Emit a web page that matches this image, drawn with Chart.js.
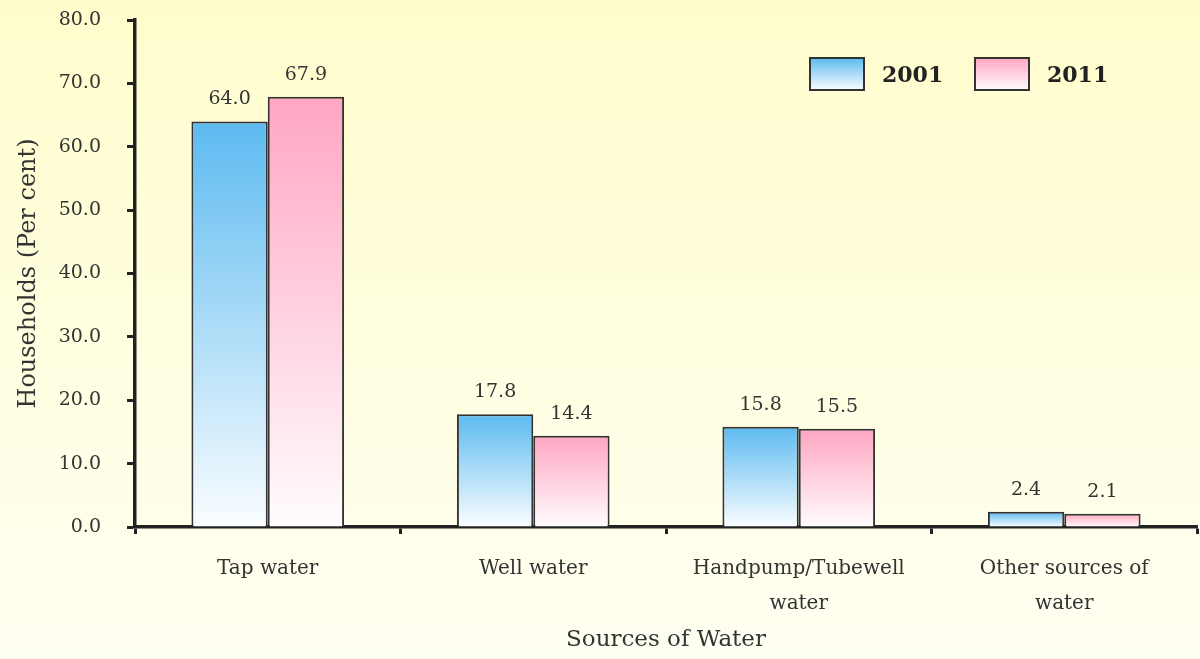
<!DOCTYPE html>
<html>
<head>
<meta charset="utf-8">
<script src="https://cdn.jsdelivr.net/npm/chart.js@4.4.1/dist/chart.umd.min.js"></script>
<style>
html,body{margin:0;padding:0;background:#fffef0;}
#wrap{width:1200px;height:659px;}
</style>
</head>
<body>
<div id="wrap"><canvas id="c" width="1200" height="659"></canvas></div>
<script>
const categories = ['Tap water', 'Well water', ['Handpump/Tubewell', 'water'], ['Other sources of', 'water']];
const seriesNames = ['2001', '2011'];
const values2001 = [64.0, 17.8, 15.8, 2.4];
const values2011 = [67.9, 14.4, 15.5, 2.1];
const yTicks = [0, 10, 20, 30, 40, 50, 60, 70, 80];

const SERIF = '"DejaVu Serif", "Liberation Serif", serif';
const topColors = ['rgb(92,186,240)', 'rgb(255,166,194)'];
const bottomColors = ['rgb(250,253,255)', 'rgb(255,252,253)'];

function barGradient(i) {
  return function (ctx) {
    if (ctx.type !== 'data' || !ctx.chart.chartArea || !ctx.parsed) return topColors[i];
    const y = ctx.chart.scales.y;
    const top = y.getPixelForValue(ctx.parsed.y);
    const bottom = y.getPixelForValue(0);
    const g = ctx.chart.ctx.createLinearGradient(0, top, 0, bottom);
    g.addColorStop(0, topColors[i]);
    g.addColorStop(1, bottomColors[i]);
    return g;
  };
}

const bgPlugin = {
  id: 'bg',
  beforeDraw(chart) {
    const c = chart.ctx;
    const g = c.createLinearGradient(0, 0, 0, chart.height);
    g.addColorStop(0, 'rgb(255,253,204)');
    g.addColorStop(1, 'rgb(255,255,242)');
    c.save();
    c.fillStyle = g;
    c.fillRect(0, 0, chart.width, chart.height);
    c.restore();
  }
};

const labelPlugin = {
  id: 'vals',
  afterDatasetsDraw(chart) {
    const c = chart.ctx;
    c.save();
    c.font = '19px ' + SERIF;
    c.fillStyle = '#333';
    c.textAlign = 'center';
    c.textBaseline = 'alphabetic';
    chart.data.datasets.forEach((ds, di) => {
      const meta = chart.getDatasetMeta(di);
      meta.data.forEach((bar, i) => {
        c.fillText(ds.data[i].toFixed(1), bar.x, bar.y - 17);
      });
    });
    c.restore();
  }
};

const legendPlugin = {
  id: 'customLegend',
  afterDraw(chart) {
    const c = chart.ctx;
    const xs = [810, 975];
    c.save();
    chart.data.datasets.forEach((ds, i) => {
      const x = xs[i], y = 58, w = 54, h = 32;
      const g = c.createLinearGradient(0, y, 0, y + h);
      g.addColorStop(0, topColors[i]);
      g.addColorStop(1, bottomColors[i]);
      c.fillStyle = g;
      c.fillRect(x, y, w, h);
      c.strokeStyle = '#333';
      c.lineWidth = 2;
      c.strokeRect(x, y, w, h);
      c.fillStyle = '#222';
      c.font = 'bold 22px ' + SERIF;
      c.textAlign = 'left';
      c.textBaseline = 'middle';
      c.fillText(ds.label, x + 72, y + h / 2 + 2);
    });
    c.restore();
  }
};

new Chart(document.getElementById('c'), {
  type: 'bar',
  data: {
    labels: categories,
    datasets: [
      { label: seriesNames[0], data: values2001, backgroundColor: barGradient(0), borderColor: '#333', borderWidth: 2, categoryPercentage: 0.575, barPercentage: 1.0 },
      { label: seriesNames[1], data: values2011, backgroundColor: barGradient(1), borderColor: '#333', borderWidth: 2, categoryPercentage: 0.575, barPercentage: 1.0 }
    ]
  },
  options: {
    responsive: false,
    animation: false,
    layout: { padding: { left: 0, right: 3, top: 20, bottom: 0 } },
    plugins: {
      legend: { display: false },
      tooltip: { enabled: false }
    },
    scales: {
      x: {
        offset: true,
        afterFit(scale) { scale.height = 132; scale.paddingLeft = 0; scale.paddingRight = 0; },
        grid: { offset: true, drawOnChartArea: false, drawTicks: true, tickLength: 7, tickWidth: 3, tickColor: '#222' },
        border: { display: true, color: '#222', width: 3.5 },
        ticks: { color: '#333', font: { family: SERIF, size: 20, lineHeight: 1.75 }, padding: 17, maxRotation: 0, autoSkip: false },
        title: { display: true, text: 'Sources of Water', color: '#333', font: { family: SERIF, size: 23 }, padding: { top: 0, bottom: 5 } }
      },
      y: {
        min: 0,
        max: 80,
        afterFit(scale) { scale.width = 135; scale.paddingTop = 0; scale.paddingBottom = 0; },
        afterBuildTicks(axis) { axis.ticks = yTicks.map(v => ({ value: v })); },
        grid: { drawOnChartArea: false, drawTicks: true, tickLength: 8, tickWidth: 3, tickColor: '#222' },
        border: { display: true, color: '#222', width: 3.5 },
        ticks: { color: '#333', font: { family: SERIF, size: 19 }, padding: 26, callback: v => Number(v).toFixed(1) },
        title: { display: true, text: 'Households (Per cent)', color: '#333', font: { family: SERIF, size: 24 }, padding: { top: 14, bottom: 0 } }
      }
    }
  },
  plugins: [bgPlugin, labelPlugin, legendPlugin]
});
</script>
</body>
</html>
